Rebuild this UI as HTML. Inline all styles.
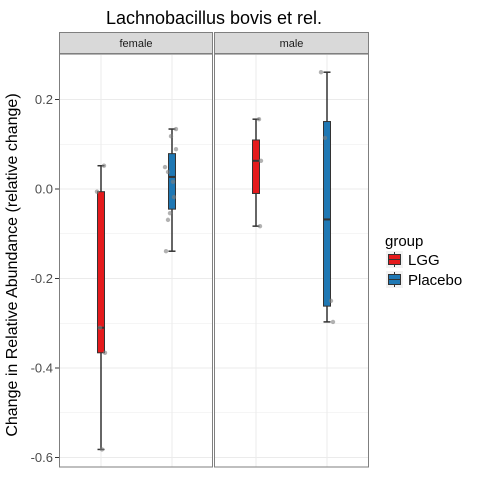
<!DOCTYPE html>
<html><head><meta charset="utf-8"><style>
body{margin:0;background:#fff;font-family:"Liberation Sans",sans-serif}
svg text{font-family:"Liberation Sans",sans-serif}
</style></head><body>
<svg id="c" width="480" height="480" xmlns="http://www.w3.org/2000/svg"></svg>
<script>
const panels=["female","male"];
const groups=["LGG","Placebo"];
const colors=["#e41a1c","#1f78b4"];
const yTicks=[0.2,0.0,-0.2,-0.4,-0.6];
const yTickLabels=["0.2","0.0","-0.2","-0.4","-0.6"];
const femaleLGG=[0.052,-0.006,-0.31,-0.366,-0.582];
const femalePlacebo=[0.134,0.118,0.089,0.049,0.038,0.016,-0.018,-0.054,-0.069,-0.139];
const maleLGG=[0.156,0.063,-0.083];
const malePlacebo=[0.261,0.114,-0.25,-0.297];
const jitter=[[3,-4,-1,4,1],[4,-1,4,-7,-4,1,2,-2,-4,-6],[3,5,4],[-6,-2,4,6]];
const series=[femaleLGG,femalePlacebo,maleLGG,malePlacebo];
const NS="http://www.w3.org/2000/svg";
const svg=document.getElementById('c');
function el(t,a,p){const e=document.createElementNS(NS,t);for(const k in a)e.setAttribute(k,a[k]);(p||svg).appendChild(e);return e;}
const pTop=54,pBot=467;
const y=v=>189-v*447.5;
const panelX=[[59,213],[214,369]];
const xPos=(pi,gi)=>panelX[pi][0]+42+gi*71;
let t=el('text',{x:214,y:24,'text-anchor':'middle','font-size':18,fill:'#000'});t.textContent="Lachnobacillus bovis et rel.";


t=el('text',{x:17,y:265,'text-anchor':'middle','font-size':16,fill:'#000',transform:'rotate(-90 17 265)'});t.textContent="Change in Relative Abundance (relative change)";


function q(s,p){const a=[...s].sort((x,y)=>x-y);const h=(a.length-1)*p,l=Math.floor(h);return a[l]+(h-l)*((a[Math.min(l+1,a.length-1)])-a[l]);}
panels.forEach((pn,pi)=>{
  const [x0,x1]=panelX[pi];
  const g=el('g',{});
  
  
  el('rect',{x:x0,y:pTop,width:x1-x0,height:pBot-pTop,fill:'#fff'},g);
  for(let k=3;k>=-6;k--){const v=k/10;const yy=y(v);if(yy<pTop||yy>pBot)continue;
    el('line',{x1:x0,x2:x1,y1:yy,y2:yy,stroke:'#ebebeb','stroke-width':k%2==0?1:0.5},g);}
  groups.forEach((gn,gi)=>el('line',{x1:xPos(pi,gi),x2:xPos(pi,gi),y1:pTop,y2:pBot,stroke:'#ebebeb'},g));
  el('rect',{x:x0+.5,y:pTop,width:x1-x0-1,height:pBot-pTop,fill:'none',stroke:'#7f7f7f'},g);
  const s=el('rect',{x:x0+.5,y:32.5,width:x1-x0-1,height:21,fill:'#d9d9d9',stroke:'#7f7f7f'});
  
  
  const st=el('text',{x:(x0+x1)/2,y:47,'text-anchor':'middle','font-size':11,fill:'#1a1a1a'});st.textContent=pn;
  
  
  groups.forEach((gn,gi)=>{
    const d=series[pi*2+gi],cx=xPos(pi,gi);
    const q1=q(d,.25),md=q(d,.5),q3=q(d,.75),iqr=q3-q1;
    const lo=Math.min(...d.filter(v=>v>=q1-1.5*iqr)),hi=Math.max(...d.filter(v=>v<=q3+1.5*iqr));
    const bg=el('g',{});
    
    
    el('line',{x1:cx,x2:cx,y1:y(hi),y2:y(lo),stroke:'#333','stroke-width':1.5},bg);
    el('line',{x1:cx-3.5,x2:cx+3.5,y1:y(hi),y2:y(hi),stroke:'#333','stroke-width':1.5},bg);
    el('line',{x1:cx-3.5,x2:cx+3.5,y1:y(lo),y2:y(lo),stroke:'#333','stroke-width':1.5},bg);
    el('rect',{x:cx-3.5,y:y(q3),width:7,height:y(q1)-y(q3),fill:colors[gi],stroke:'#333','stroke-width':1},bg);
    el('line',{x1:cx-3.5,x2:cx+3.5,y1:y(md),y2:y(md),stroke:'#333','stroke-width':2},bg);
    d.forEach((v,i)=>{const c=el('circle',{cx:cx+jitter[pi*2+gi][i],cy:y(v),r:2.2,fill:'#7f7f7f','fill-opacity':0.6});
      
      });
  });
});
yTicks.forEach((v,i)=>{el('line',{x1:55,x2:59,y1:y(v),y2:y(v),stroke:'#333'});
  const tt=el('text',{x:53,y:y(v)+4.5,'text-anchor':'end','font-size':13,fill:'#4d4d4d'});tt.textContent=yTickLabels[i];
  
  });
const lg=el('g',{});


t=el('text',{x:385,y:246,'font-size':15,fill:'#000'},lg);t.textContent="group";
groups.forEach((gn,gi)=>{const yy=251+gi*20;
  const e=el('g',{},lg);
  
  
  el('rect',{x:386,y:yy,width:17,height:17,fill:'#f2f2f2'},e);
  el('line',{x1:394.5,x2:394.5,y1:yy+1,y2:yy+16,stroke:'#333'},e);
  el('rect',{x:388.5,y:yy+3.5,width:12,height:10,fill:colors[gi],stroke:'#333'},e);
  el('line',{x1:388.5,x2:400.5,y1:yy+8.5,y2:yy+8.5,stroke:'#333'},e);
  const lt=el('text',{x:408,y:yy+14,'font-size':15,fill:'#000'},e);lt.textContent=gn;});
</script></body></html>
